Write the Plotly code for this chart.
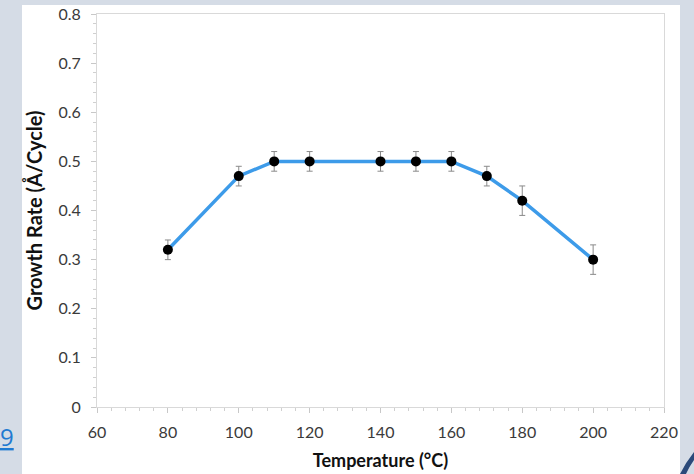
import plotly.graph_objects as go

temperature = [80, 100, 110, 120, 140, 150, 160, 170, 180, 200]
growth_rate = [0.32, 0.47, 0.50, 0.50, 0.50, 0.50, 0.50, 0.47, 0.42, 0.30]
error = [0.02, 0.02, 0.02, 0.02, 0.02, 0.02, 0.02, 0.02, 0.03, 0.03]

x_ticks = [60, 80, 100, 120, 140, 160, 180, 200, 220]
y_ticks = [0, 0.1, 0.2, 0.3, 0.4, 0.5, 0.6, 0.7, 0.8]

W, H = 694, 474
L, R, T, B = 97, 30, 14, 67
pw, ph = W - L - R, H - T - B

def px(x):
    return (x - L) / pw

def py(y):
    return (H - B - y) / ph

fig = go.Figure()
fig.add_trace(go.Scatter(
    x=temperature, y=growth_rate,
    mode="lines+markers",
    line=dict(color="#3d9be9", width=3.5),
    marker=dict(color="black", size=10),
    error_y=dict(type="data", array=error, visible=True, color="#8a8a8a", thickness=1, width=3),
    showlegend=False,
))

font = "Lato"
axis_common = dict(
    showgrid=False, zeroline=False, showline=True, linecolor="#d9d9d9", linewidth=1,
    mirror=True, ticks="outside", ticklen=5, tickcolor="#c8c8c8", automargin=False,
    tickfont=dict(family=font, size=16, color="#3a3a3a"),
)
fig.update_xaxes(
    range=[60, 220], tickvals=x_ticks, ticktext=[str(v) for v in x_ticks],
    minor=dict(dtick=4, ticks="outside", ticklen=3, tickcolor="#d0d0d0"),
    title=dict(text="<b>Temperature (°C)</b>", font=dict(family=font, size=18, color="#111111"), standoff=14),
    ticklabelstandoff=6,
    **axis_common,
)
fig.update_yaxes(
    range=[0, 0.8], tickvals=y_ticks, ticktext=["0"] + [f"{v:.1f}" for v in y_ticks[1:]],
    minor=dict(dtick=0.02, ticks="outside", ticklen=3, tickcolor="#d0d0d0"),
    title=dict(text="<b>Growth Rate (Å/Cycle)</b>", font=dict(family=font, size=20, color="#111111"), standoff=10),
    ticklabelstandoff=7,
    **axis_common,
)

shapes = [
    dict(type="rect", xref="paper", yref="paper", x0=px(22), x1=px(680), y0=py(474), y1=py(5),
         fillcolor="white", line=dict(width=0), layer="below"),
    dict(type="path", xref="paper", yref="paper",
         path=f"M {px(680)} {py(474)} Q {px(686)} {py(462)} {px(694)} {py(452)} "
              f"L {px(694)} {py(460)} Q {px(689)} {py(467)} {px(686)} {py(474)} Z",
         fillcolor="#2b4a7a", line=dict(width=0), layer="above"),
]

fig.update_layout(
    width=W, height=H,
    margin=dict(l=L, r=R, t=T, b=B),
    paper_bgcolor="#d5dce6", plot_bgcolor="white",
    shapes=shapes,
    annotations=[dict(text="<u>9</u>", xref="paper", yref="paper", x=px(-2), y=py(436),
                      xanchor="left", yanchor="middle", showarrow=False,
                      font=dict(family="Open Sans", size=24, color="#1f7ad1"))],
)
fig.write_html("out.html")
